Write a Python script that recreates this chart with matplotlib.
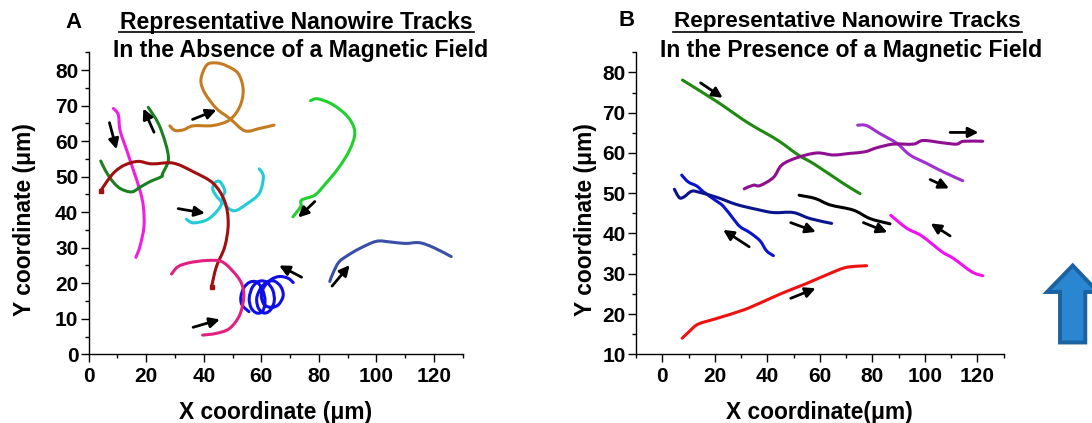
import matplotlib
matplotlib.use("Agg")
import matplotlib.pyplot as plt
from matplotlib.lines import Line2D
from matplotlib.patches import Polygon, PathPatch
from matplotlib.path import Path

plt.rcParams['font.family'] = ['Liberation Sans', 'DejaVu Sans']
plt.rcParams['font.weight'] = 'bold'

# panel A tracks (x, y in um)
a_magenta_x = [8.6, 10.3, 10.9, 13.2, 15.5, 17.8, 19, 19.2, 17.8, 16.4]
a_magenta_y = [69.2, 67.4, 63, 57.5, 51.9, 46.2, 41.6, 35.9, 30.3, 27.3]
a_dgreen_x = [20.7, 24.2, 26.7, 27.7, 25.7, 25.3, 21.3, 17.8, 14.9, 10.9, 8, 5.7, 4.2]
a_dgreen_y = [69.5, 65, 59.4, 54.7, 50.9, 50, 48.6, 47, 45.7, 46.7, 49, 51.9, 54.4]
a_brown_x = [28.2, 30, 33, 36.3, 43.3, 49, 52.5, 53.7, 52, 47.9, 44.4, 41, 39, 40.4, 44.4, 49, 54.3, 59.5, 64.4]
a_brown_y = [64.3, 63, 63.2, 64.3, 64.4, 66, 69.7, 74.4, 79, 81.2, 82, 81.4, 77.2, 73.5, 69.2, 66.4, 62.9, 63.6, 64.5]
a_lgreen_x = [77.1, 79.7, 85, 90.2, 92.5, 90.7, 86.7, 82, 78.6, 74, 73.7, 71]
a_lgreen_y = [71.4, 71.9, 70.2, 66.7, 62.5, 57.5, 52.3, 47.7, 44.8, 43.4, 41.6, 38.7]
a_dred_x = [4.2, 6.3, 9.1, 12.6, 17.2, 21.9, 29.4, 36.3, 43.3, 47.3, 48.5, 47.3, 44.4, 42.7]
a_dred_y = [46, 48.6, 51.4, 53.3, 54.3, 53.6, 53.8, 51.4, 48.1, 43, 36.9, 30.3, 24.7, 19]
a_cyan_x = [34, 36.3, 41, 44.5, 46.2, 44.5, 43.1, 43.9, 45.6, 47.3, 46.5, 47.9, 50.8, 54.9, 59.3, 60.7, 59.3]
a_cyan_y = [38, 37, 37.8, 40.2, 42.6, 44.4, 46.5, 48.3, 48.6, 46, 44, 41.6, 40.4, 42.3, 45.3, 50, 52.2]
a_pink_x = [28.8, 31.1, 35.2, 41, 46.2, 50.2, 53.1, 53.9, 52.5, 49, 44.4, 39.6]
a_pink_y = [22.6, 24.7, 25.8, 26.4, 26.1, 23.3, 20, 16.2, 11.1, 7.3, 5.9, 5.4]
a_blue_x = [71.1, 69.3, 66.4, 63.5, 61, 60, 61, 63.5, 66, 67.6, 66.8, 64.5, 62, 59.8, 58.4, 59, 61, 63.2,
            64.5, 64, 62, 59.5, 57, 55.8, 56.5, 58.5, 60.5, 61.3, 60.5, 58.5, 56, 54, 52.9, 53.3, 55.7]
a_blue_y = [20.2, 21.4, 21.9, 21.1, 19, 16.5, 14, 13.2, 14, 16.5, 19, 20.6, 20.3, 18.6, 15.8, 13, 11.6, 12.5,
            15, 18, 20.2, 20.6, 19, 15.8, 13, 11.6, 12.2, 15, 18, 20.3, 20.3, 18.8, 16.2, 13.9, 12]
a_slate_x = [83.8, 85, 87, 90, 94, 100, 105, 110, 115, 120, 126]
a_slate_y = [20.5, 23, 26, 27.8, 29.7, 31.8, 31.6, 31.2, 31.4, 30, 27.5]

# panel B tracks
b_green_x = [7.7, 20.7, 32.1, 39.7, 44.8, 51.8, 58.2, 69, 75.3]
b_green_y = [78.1, 72.8, 67.7, 64.8, 62.8, 59.5, 57.1, 52.4, 49.9]
b_purple_x = [31.2, 34.7, 37.2, 42.3, 45.5, 51.2, 58.8, 65.1, 71.5, 77.2, 81.7, 88, 95.6, 99.4, 107, 112.1, 114.7, 122]
b_purple_y = [51.1, 52, 51.9, 53.9, 57, 58.8, 60, 59.5, 59.9, 60.3, 61.3, 62.2, 62.2, 63.1, 62.5, 62.2, 62.9, 62.9]
b_violet_x = [74.4, 77.8, 82.9, 89.3, 94.3, 100.7, 107, 114.4]
b_violet_y = [66.9, 66.8, 64.8, 62.4, 59.5, 57.4, 55.3, 53.1]
b_blue_x = [7.4, 9.9, 13.1, 15.6, 20.1, 23.2, 27, 29.6, 33.4, 37.2, 39.7, 42.3]
b_blue_y = [54.5, 52.8, 51.8, 50.4, 48.3, 46.8, 43.7, 41.7, 40.2, 38.2, 35.7, 34.5]
b_navy_x = [4.6, 6.5, 8.3, 11.2, 14.3, 20.7, 28.3, 35.9, 42.3, 49.9, 56.3, 64.5]
b_navy_y = [51, 48.9, 49.1, 50.5, 50.2, 49, 47.2, 46, 45.2, 45.2, 43.7, 42.5]
b_black_x = [52.1, 58.2, 63.9, 72.8, 79.1, 86.7]
b_black_y = [49.5, 48.7, 47.1, 45.8, 43.7, 42.4]
b_magenta_x = [87, 93.1, 98.8, 106.4, 110.9, 117.8, 122]
b_magenta_y = [44.5, 41.3, 39.4, 35.5, 33.8, 30.5, 29.5]
b_red_x = [7.6, 10.5, 13.7, 20.7, 30.9, 38.5, 46.1, 55, 63.9, 70.2, 77.8]
b_red_y = [14, 15.8, 17.5, 18.9, 21, 23.1, 25.3, 27.6, 30.1, 31.6, 32]

# arrows: tail x, tail y, tip x, tip y
a_arrows = [(36.1, 66.1, 44.4, 68.8), (7.2, 65.2, 9.7, 57.7), (22.7, 62.5, 19, 69.2), (31.1, 41, 40.4, 39.7),
            (78.6, 43, 72.8, 38.5), (74, 21.7, 66.2, 25), (84.6, 19.2, 90.7, 25.1), (36.3, 7.6, 45.6, 9.8)]
b_arrows = [(14.6, 77.4, 23, 73.7), (109.6, 65.1, 120.4, 65.1), (102, 53.4, 109.2, 51.2), (48.9, 42.7, 58.5, 40.4),
            (76.6, 42.7, 85.7, 40.3), (109.6, 39.4, 102.2, 42.5), (33.1, 36.7, 23.2, 40.9), (48.9, 23.9, 58.4, 26.4)]

W, H = 1092, 423
fig = plt.figure(figsize=(W / 100, H / 100), dpi=100)


def make_axes(left, right, top, bottom):
    ax = fig.add_axes([left / W, 1 - bottom / H, (right - left) / W, (bottom - top) / H])
    ax.spines['top'].set_visible(False)
    ax.spines['right'].set_visible(False)
    ax.spines['left'].set_linewidth(1.0)
    ax.spines['bottom'].set_linewidth(1.0)
    ax.set_xticks(range(0, 121, 20))
    ax.set_xticks(range(10, 131, 20), minor=True)
    ax.tick_params(which='major', length=6, width=1.0, labelsize=15)
    ax.tick_params(which='minor', length=3, width=1.0)
    ax.tick_params(axis='x', which='major', pad=3)
    ax.tick_params(axis='y', which='major', pad=1.5)
    ax.patch.set_alpha(0)
    return ax


def track(ax, x, y, c):
    # curve through the read points: cubic segments with Catmull-Rom handles
    pts = list(zip(x, y))
    verts = [pts[0]]
    codes = [Path.MOVETO]
    for i in range(len(pts) - 1):
        p0 = pts[max(i - 1, 0)]
        p1 = pts[i]
        p2 = pts[i + 1]
        p3 = pts[min(i + 2, len(pts) - 1)]
        verts.append((p1[0] + (p2[0] - p0[0]) / 6, p1[1] + (p2[1] - p0[1]) / 6))
        verts.append((p2[0] - (p3[0] - p1[0]) / 6, p2[1] - (p3[1] - p1[1]) / 6))
        verts.append(p2)
        codes += [Path.CURVE4] * 3
    ax.add_patch(PathPatch(Path(verts, codes), fill=False, edgecolor=c, lw=2.2,
                           joinstyle='round', capstyle='round'))


def draw_arrows(ax, arrows):
    for x0, y0, x1, y1 in arrows:
        ax.annotate('', xy=(x1, y1), xytext=(x0, y0),
                    arrowprops=dict(arrowstyle='-|>', color='black', lw=2, mutation_scale=15,
                                    shrinkA=0, shrinkB=0))


def labels(ax, xtext, xpos_y, ypos_x):
    ax.set_xlabel(xtext, fontsize=16.4, fontweight='bold')
    ax.set_ylabel('Y coordinate (\u03bcm)', fontsize=16.4, fontweight='bold')
    ax.xaxis.set_label_coords(0.5, xpos_y)
    ax.yaxis.set_label_coords(ypos_x, 0.445)


# panel A
ax1 = make_axes(88.7, 462.7, 52.3, 354.3)
ax1.set_xlim(0, 130)
ax1.set_ylim(0, 85)
ax1.set_yticks(range(0, 81, 10))
ax1.set_yticks(range(5, 86, 10), minor=True)
for x, y, c in [(a_magenta_x, a_magenta_y, '#f01fe0'), (a_dgreen_x, a_dgreen_y, '#1a8022'),
                (a_brown_x, a_brown_y, '#c47c22'), (a_lgreen_x, a_lgreen_y, '#20d02e'),
                (a_cyan_x, a_cyan_y, '#20ccd8'), (a_dred_x, a_dred_y, '#a01010'),
                (a_blue_x, a_blue_y, '#1010e6'), (a_pink_x, a_pink_y, '#e2207f'),
                (a_slate_x, a_slate_y, '#3a4fa8')]:
    track(ax1, x, y, c)
ax1.plot(a_dred_x[-1:], a_dred_y[-1:], 's', color='#a01010', ms=3)
ax1.plot(a_dred_x[:1], a_dred_y[:1], 's', color='#a01010', ms=3)
draw_arrows(ax1, a_arrows)
labels(ax1, 'X coordinate (\u03bcm)', -0.153, -0.141)

# panel B
ax2 = make_axes(636, 1003.7, 52.3, 354.3)
ax2.set_xlim(-10, 130)
ax2.set_ylim(10, 85)
ax2.set_yticks(range(10, 81, 10))
ax2.set_yticks(range(15, 86, 10), minor=True)
ax2.set_xticks([-10] + list(range(10, 131, 20)), minor=True)
for x, y, c in [(b_green_x, b_green_y, '#1f8a10'), (b_violet_x, b_violet_y, '#a030d0'),
                (b_purple_x, b_purple_y, '#900f90'), (b_blue_x, b_blue_y, '#0a14d0'),
                (b_navy_x, b_navy_y, '#0a148c'), (b_black_x, b_black_y, 'black'),
                (b_magenta_x, b_magenta_y, '#f010f0'), (b_red_x, b_red_y, '#f01010')]:
    track(ax2, x, y, c)
draw_arrows(ax2, b_arrows)
labels(ax2, 'X coordinate(\u03bcm)', -0.153, -0.106)


def fig_text(px, py, s, size, ha='center'):
    fig.text(px / W, 1 - py / H, s, fontsize=size, fontweight='bold', ha=ha, va='center')


fig_text(74, 23, 'A', 16)
fig_text(296, 22, 'Representative Nanowire Tracks', 16.6)
fig_text(300.5, 50, 'In the Absence of a Magnetic Field', 16.6)
fig_text(627, 21, 'B', 16)
fig_text(847.5, 22, 'Representative Nanowire Tracks', 16.2)
fig_text(851.5, 50, 'In the Presence of a Magnetic Field', 16.6)
fig.add_artist(Line2D([118.5 / W, 473.5 / W], [1 - 32.3 / H] * 2, color='black', lw=1.2))
fig.add_artist(Line2D([673 / W, 1022 / W], [1 - 32.3 / H] * 2, color='black', lw=1.2))

# big blue field arrow, cut by the right edge
fig.add_artist(Polygon([(1072.7 / W, 1 - 265.5 / H), (1098 / W, 1 - 292 / H), (1085.3 / W, 1 - 292 / H),
                        (1085.3 / W, 1 - 342.5 / H), (1060 / W, 1 - 342.5 / H), (1060 / W, 1 - 292 / H),
                        (1047 / W, 1 - 292 / H)],
                       closed=True, transform=fig.transFigure, facecolor='#2a86d0',
                       edgecolor='#1a62a0', lw=2.8))

fig.savefig('out.png', dpi=100)
